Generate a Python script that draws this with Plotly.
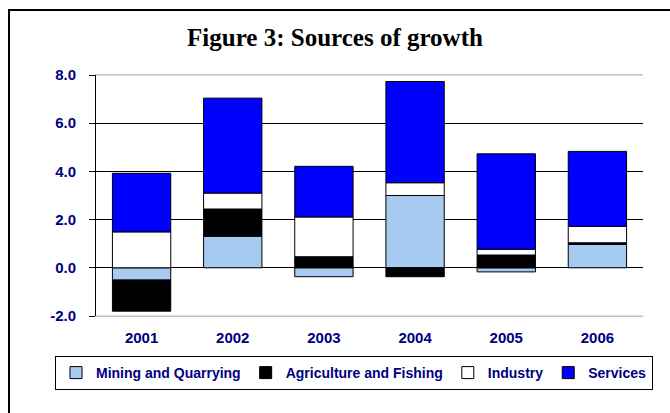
import plotly.graph_objects as go

# Contribution to GDP growth by sector (percentage points)
years = ["2001", "2002", "2003", "2004", "2005", "2006"]
mining = [-0.51, 1.31, -0.37, 3.00, -0.17, 0.97]
agriculture = [-1.29, 1.13, 0.46, -0.37, 0.53, 0.07]
industry = [1.49, 0.66, 1.65, 0.53, 0.24, 0.68]
services = [2.43, 3.94, 2.10, 4.20, 3.96, 3.11]

y_ticks = [-2, 0, 2, 4, 6, 8]
y_tick_labels = ["-2.0", "0.0", "2.0", "4.0", "6.0", "8.0"]

series = [
    ("Mining and Quarrying", mining, "#A6CAF0"),
    ("Agriculture and Fishing", agriculture, "#000000"),
    ("Industry", industry, "#FFFFFF"),
    ("Services", services, "#0000FF"),
]

NAVY = "#000080"
AXIS_FONT = dict(family="Liberation Sans", size=15, color=NAVY, weight="bold")

W, H = 670, 413
L, R, T, B = 96, 27, 75, 97
pw, ph = W - L - R, H - T - B


def px_x(p):
    return (p - L) / pw


def px_y(p):
    return (H - B - p) / ph


fig = go.Figure()
for name, vals, color in series:
    fig.add_trace(go.Bar(
        x=years, y=vals, name=name,
        marker=dict(color=color, line=dict(color="#000000", width=1)),
    ))

fig.update_layout(
    width=W, height=H,
    margin=dict(l=L, r=R, t=T, b=B),
    paper_bgcolor="white", plot_bgcolor="white",
    barmode="relative", bargap=0.36,
    title=dict(
        text="<b>Figure 3: Sources of growth</b>",
        x=0.5, xref="container", xanchor="center",
        y=1 - 37 / H, yref="container", yanchor="middle",
        font=dict(family="Liberation Serif", size=25, color="#000000"),
    ),
    xaxis=dict(
        type="category", showgrid=False, ticks="",
        showline=True, linecolor="#C0C0C0", linewidth=1, mirror=True,
        tickfont=AXIS_FONT, ticklabelstandoff=8, tickangle=0,
    ),
    xaxis2=dict(
        overlaying="x", anchor="free", position=-y_ticks[0] / (y_ticks[-1] - y_ticks[0]),
        type="linear", range=[-0.5, len(years) - 0.5],
        tick0=-0.5, dtick=1, ticks="outside", ticklen=4, tickcolor="#000000",
        showline=True, linecolor="#000000", linewidth=1,
        showticklabels=False, showgrid=False, zeroline=False,
    ),
    yaxis=dict(
        range=[y_ticks[0], y_ticks[-1]], tickvals=y_ticks, ticktext=y_tick_labels,
        showgrid=True, gridcolor="#000000", gridwidth=1, zeroline=False,
        showline=True, linecolor="#000000", linewidth=1,
        ticks="outside", ticklen=6, tickcolor="#000000",
        tickfont=AXIS_FONT, ticklabelstandoff=10,
    ),
    legend=dict(
        orientation="h", traceorder="normal",
        x=px_x(55), xanchor="left",
        y=px_y(356), yanchor="top",
        bgcolor="white", bordercolor="#000000", borderwidth=1,
        font=dict(family="Liberation Sans", size=14, color=NAVY, weight="bold"),
        itemclick=False,
    ),
    shapes=[
        # outer chart frame
        dict(type="rect", xref="paper", yref="paper",
             x0=px_x(9), x1=px_x(700), y0=px_y(440), y1=px_y(10),
             line=dict(color="#000000", width=2), fillcolor="rgba(0,0,0,0)",
             layer="above"),
        # plot-area border at the top and bottom of the value range
        dict(type="line", xref="paper", yref="y", x0=0, x1=1,
             y0=y_ticks[-1], y1=y_ticks[-1],
             line=dict(color="#C0C0C0", width=1), layer="above"),
        dict(type="line", xref="paper", yref="y", x0=0, x1=1,
             y0=y_ticks[0], y1=y_ticks[0],
             line=dict(color="#C0C0C0", width=1), layer="above"),
    ],
)

fig.write_html("out.html")
